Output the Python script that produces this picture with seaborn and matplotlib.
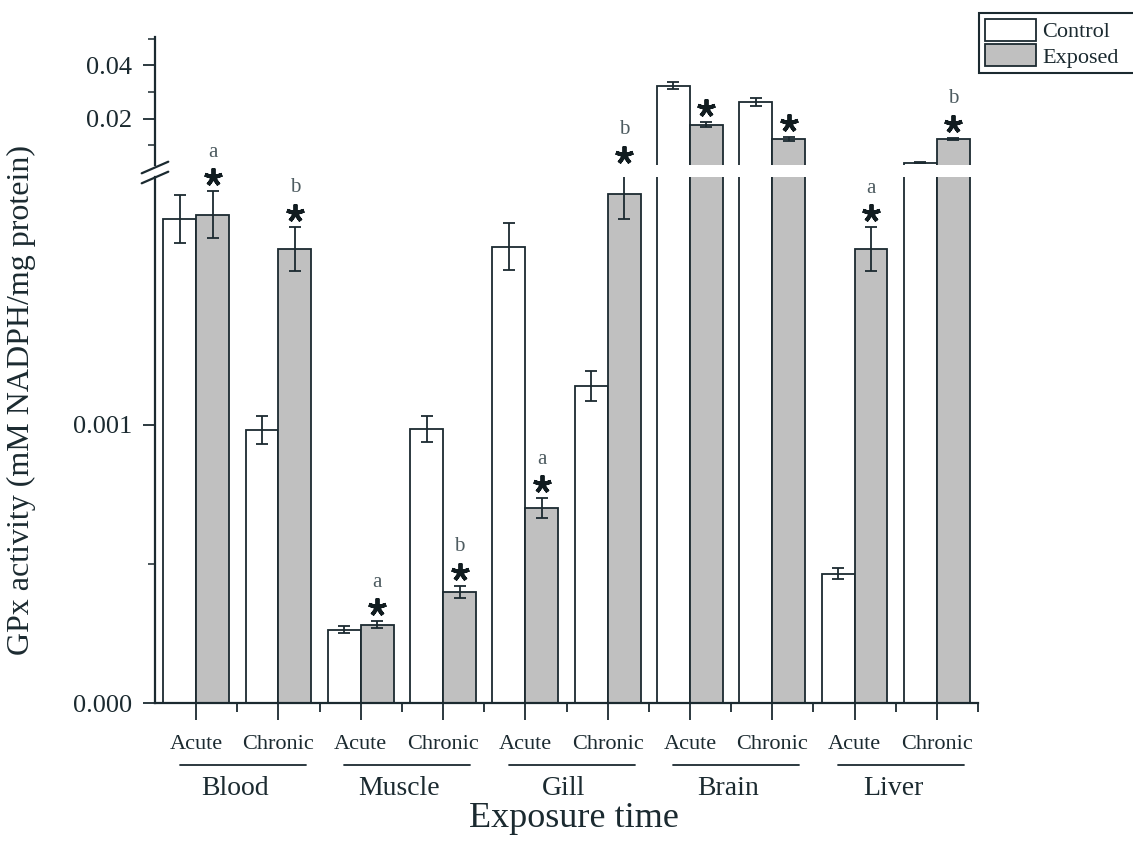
import numpy as np
import pandas as pd
import matplotlib
matplotlib.use("Agg")
import matplotlib.pyplot as plt
import matplotlib.transforms as mtransforms
from matplotlib.lines import Line2D
from matplotlib.patches import Patch
import seaborn as sns

# ---- data -------------------------------------------------------------
tissues = ["Blood", "Muscle", "Gill", "Brain", "Liver"]
times = ["Acute", "Chronic"]
groups = ["Control", "Exposed"]

# GPx activity (mM NADPH/mg protein), order: tissue x time
control = [0.00174, 0.00098, 0.000263, 0.000986, 0.00164, 0.00114,
           0.0323, 0.0262, 0.000464, 0.0036]
control_err = [0.000086, 0.00005, 0.000013, 0.000047, 0.000083, 0.000054,
               0.0013, 0.0015, 0.00002, 0.0002]
exposed = [0.001755, 0.001633, 0.000281, 0.000399, 0.000701, 0.00183,
           0.0178, 0.0125, 0.00163, 0.0125]
exposed_err = [0.000085, 0.000079, 0.000013, 0.000022, 0.000035, 0.00009,
               0.0009, 0.0007, 0.000079, 0.0004]
letters = ["a", "b", "a", "b", "a", "b", "", "", "a", "b"]

samples = [f"{t} {p}" for t in tissues for p in times]
df = pd.DataFrame({
    "sample": samples * 2,
    "group": [groups[0]] * len(samples) + [groups[1]] * len(samples),
    "value": control + exposed,
})

# ---- style ------------------------------------------------------------
sns.set_style("ticks")
plt.rcParams["font.family"] = ["Liberation Serif", "DejaVu Serif"]
INK = "#1b2a30"
GREY = "#c0c0c0"
plt.rcParams.update({
    "axes.edgecolor": INK, "xtick.color": INK, "ytick.color": INK,
    "text.color": INK, "axes.labelcolor": INK,
})
palette = {"Control": "white", "Exposed": GREY}

W, H = 1133, 842
fig = plt.figure(figsize=(W / 100, H / 100), dpi=100)

def px_axes(left, top, right, bottom):
    return fig.add_axes([left / W, 1 - bottom / H, (right - left) / W, (bottom - top) / H])

# broken y axis: a lower panel for small activities, an upper one for large
ax_lo = px_axes(155, 177, 978, 703)
ax_hi = px_axes(155, 37, 978, 165)
ax_hi.patch.set_visible(False)

lo_lim = (0.0, 0.00189)
hi_lim = (0.0027, 0.0506)

for ax in (ax_lo, ax_hi):
    sns.barplot(data=df, x="sample", y="value", hue="group", order=samples,
                hue_order=groups, palette=palette, edgecolor=INK, linewidth=1.3,
                width=0.8, errorbar=None, legend=False, ax=ax, zorder=2)
    for cont, errs in zip(ax.containers, [control_err, exposed_err]):
        xs = [b.get_x() + b.get_width() / 2 for b in cont]
        ys = [b.get_height() for b in cont]
        ax.errorbar(xs, ys, yerr=errs, fmt="none", ecolor=INK, elinewidth=1.3,
                    capsize=4.3, capthick=1.3, zorder=3)
    ax.set_xlim(-0.5, 9.5)
    ax.set_xlabel("")
    ax.set_ylabel("")
    sns.despine(ax=ax)
    ax.spines["left"].set_linewidth(1.6)
    ax.spines["bottom"].set_linewidth(1.6)
    ax.tick_params(axis="y", which="major", length=8.6, width=1.3, labelsize=19, pad=8)
    ax.tick_params(axis="y", which="minor", length=5, width=1.1)

ax_lo.set_ylim(*lo_lim)
ax_hi.set_ylim(*hi_lim)

ax_lo.set_yticks([0.0, 0.001], labels=["0.000", "0.001"])
ax_lo.set_yticks([0.0005], minor=True)
ax_hi.set_yticks([0.02, 0.04], labels=["0.02", "0.04"])
ax_hi.set_yticks([0.01, 0.03, 0.05], minor=True)

ax_hi.spines["bottom"].set_visible(False)
ax_hi.tick_params(axis="x", which="both", bottom=False, labelbottom=False)

ax_lo.set_xticks(range(len(samples)), labels=times * len(tissues))
ax_lo.set_xticks(np.arange(0.5, len(samples), 1.0), minor=True)
ax_lo.tick_params(axis="x", which="major", length=12, width=1.3, labelsize=16, pad=11)
ax_lo.tick_params(axis="x", which="minor", length=6.5, width=1.3)

# ---- significance marks ----------------------------------------------
for i, (v, e, let) in enumerate(zip(exposed, exposed_err, letters)):
    ax = ax_hi if v > lo_lim[1] else ax_lo
    bar = ax.containers[1][i]
    x = bar.get_x() + bar.get_width() / 2
    top = v + e
    star_tr = mtransforms.offset_copy(ax.transData, fig=fig, y=10, units="points")
    ax.plot([x], [top], marker=(5, 2, 0), ms=13, mew=2.8, color="#111c20",
            transform=star_tr, clip_on=False, zorder=5)
    if let:
        ax.annotate(let, (x, top), xytext=(0, 28), textcoords="offset points",
                    ha="center", va="center", fontsize=15, color="#4d5b60",
                    annotation_clip=False, zorder=5)

# ---- axis break marks -------------------------------------------------
for y0 in (173.3, 183.3):
    fig.add_artist(Line2D([141.7 / W, 168.3 / W], [1 - y0 / H, 1 - (y0 - 11.6) / H],
                          color=INK, lw=1.6, transform=fig.transFigure))

# ---- tissue group labels ----------------------------------------------
grp_tr = mtransforms.blended_transform_factory(ax_lo.transData, ax_lo.transAxes)
for k, tissue in enumerate(tissues):
    ax_lo.plot([2 * k - 0.2, 2 * k + 1.33], [-0.118, -0.118], color=INK, lw=1.3,
               transform=grp_tr, clip_on=False)
    ax_lo.text(2 * k + 0.47, -0.162, tissue, transform=grp_tr, ha="center",
               va="center", fontsize=20)
ax_lo.text(4.59, -0.219, "Exposure time", transform=grp_tr, ha="center",
           va="center", fontsize=26)

fig.text(21 / W, 1 - 400 / H, "GPx activity (mM NADPH/mg protein)", rotation=90,
         ha="center", va="center", fontsize=23)

# ---- legend -----------------------------------------------------------
handles = [Patch(facecolor=palette[g], edgecolor=INK, linewidth=1.3) for g in groups]
leg = fig.legend(handles, groups, loc="upper left",
                 bbox_to_anchor=(979 / W, 1 - 13 / H, 185 / W, 0),
                 bbox_transform=fig.transFigure, mode="expand", fontsize=16,
                 frameon=True, fancybox=False, edgecolor=INK, framealpha=1,
                 borderpad=0.25, borderaxespad=0, handlelength=2.3,
                 handleheight=1.15, labelspacing=0.1, handletextpad=0.3)
leg.get_frame().set_linewidth(1.5)

fig.savefig("out.png", dpi=100)
